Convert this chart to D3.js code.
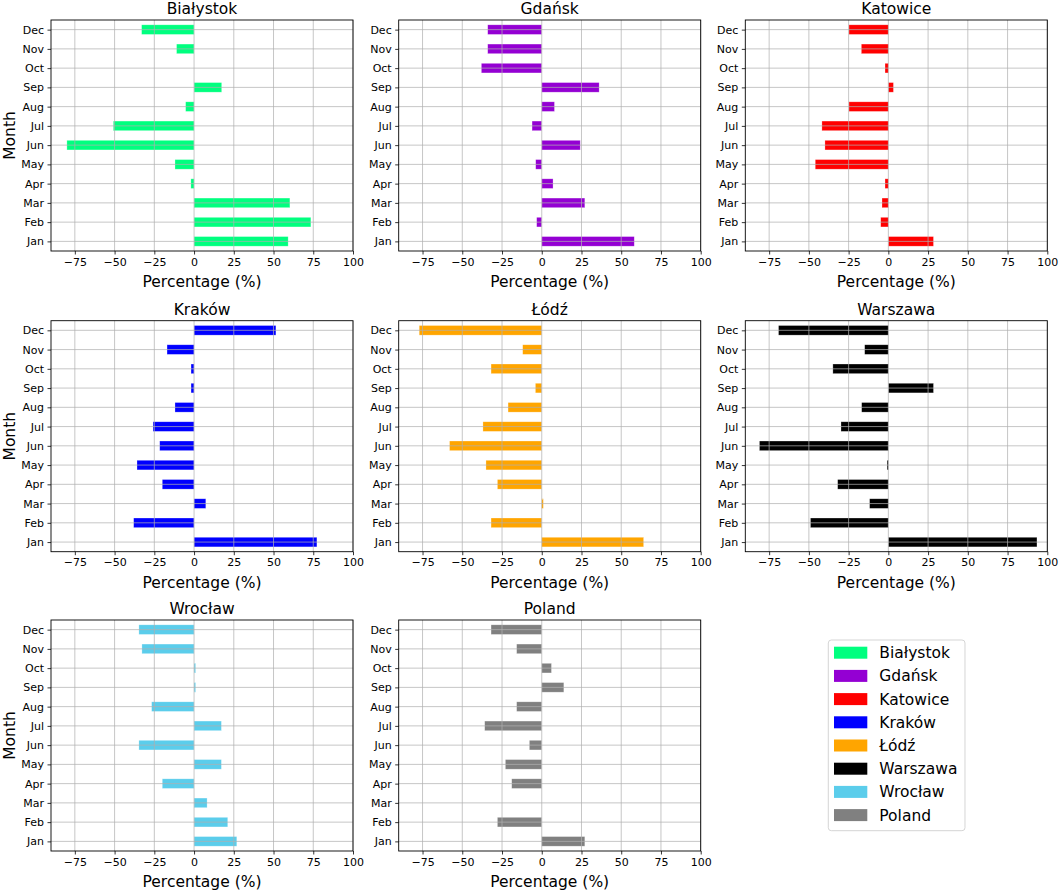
<!DOCTYPE html>
<html>
<head>
<meta charset="utf-8">
<script src="https://cdn.jsdelivr.net/npm/d3@7"></script>
<style>
  body { margin: 0; background: #fff; }
  text { font-family: "DejaVu Sans", sans-serif; fill: #000; }
</style>
</head>
<body>
<svg id="chart" width="1059" height="891"></svg>
<script>
const months = ["Jan","Feb","Mar","Apr","May","Jun","Jul","Aug","Sep","Oct","Nov","Dec"];
const xTicks = [-75,-50,-25,0,25,50,75,100];
const cities = ["Białystok","Gdańsk","Katowice","Kraków","Łódź","Warszawa","Wrocław","Poland"];
const colors = ["#00FF7F","#9400D3","#FF0000","#0000FF","#FFA500","#000000","#5BCDEB","#808080"];
// values Jan..Dec
const bialystok = [59.2, 73.5, 60.3, -2, -12, -80, -50.8, -5.3, 17.4, 0, -11, -33];
const gdansk    = [58.2, -3.2, 27.1, 7.1, -3.8, 24.2, -6.1, 8, 36.1, -38, -34, -34];
const katowice  = [28.4, -4.8, -4, -2.1, -46, -39.9, -41.8, -24.8, 3.2, -2.1, -17, -24.8];
const krakow    = [77.3, -38, 7.4, -20, -35.9, -21.6, -25.8, -12, -1.9, -1.9, -17, 51.5];
const lodz      = [64.1, -31.9, 1, -27.9, -35.1, -58, -37, -21.2, -4, -31.9, -12, -77.1];
const warszawa  = [93.5, -49, -11.8, -31.9, -0.8, -81.1, -29.8, -16.8, 28.4, -34.9, -14.9, -69.1];
const wroclaw   = [26.9, 21.2, 8.2, -20, 17.2, -34.7, 17.2, -26.7, 1, 1, -32.8, -34.7];
const poland    = [27.1, -27.9, 0, -18.9, -22.9, -7.8, -35.9, -15.8, 13.9, 6.1, -15.8, -31.9];
const seriesList = [bialystok, gdansk, katowice, krakow, lodz, warszawa, wroclaw, poland];

const svg = d3.select("#chart");
const colX = [51, 398.7, 745.3];
const rowY = [20, 320.7, 620];
const W = 302, H = 231;

const x = d3.scaleLinear().domain([-90, 100]).range([0, W]);
const y = d3.scaleLinear().domain([-0.5, 11.5]).range([H, 0]);
const bandPx = y(0) - y(0.5);

cities.forEach((city, k) => {
  const c = k % 3, r = Math.floor(k / 3);
  const g = svg.append("g").attr("transform", `translate(${colX[c]},${rowY[r]})`);
  const vals = seriesList[k];

  // bars
  g.selectAll("rect.bar").data(vals).enter().append("rect")
    .attr("class", "bar")
    .attr("x", d => x(Math.min(0, d)))
    .attr("width", d => Math.abs(x(d) - x(0)))
    .attr("y", (d, i) => y(i + 0.25))
    .attr("height", bandPx)
    .attr("fill", colors[k])
    .attr("stroke", "#ffffff").attr("stroke-opacity", 0.45).attr("stroke-width", 0.6);

  // grid (on top of bars)
  g.selectAll("line.vg").data(xTicks).enter().append("line")
    .attr("x1", d => x(d)).attr("x2", d => x(d))
    .attr("y1", 0).attr("y2", H)
    .attr("stroke", "#b0b0b0").attr("stroke-width", 0.8).attr("stroke-opacity", 0.9);
  g.selectAll("line.hg").data(months).enter().append("line")
    .attr("x1", 0).attr("x2", W)
    .attr("y1", (d, i) => y(i)).attr("y2", (d, i) => y(i))
    .attr("stroke", "#b0b0b0").attr("stroke-width", 0.8).attr("stroke-opacity", 0.9);

  // axes
  const xAxis = d3.axisBottom(x).tickValues(xTicks).tickSize(3.5).tickPadding(3.5)
    .tickFormat(d => d < 0 ? "\u2212" + Math.abs(d) : String(d));
  const gx = g.append("g").attr("transform", `translate(0,${H})`).call(xAxis);
  gx.select(".domain").remove();
  gx.selectAll("text").attr("font-size", "11px").attr("font-family", "DejaVu Sans");
  gx.selectAll("line").attr("stroke-width", 0.8);

  const yAxis = d3.axisLeft(y).tickValues(d3.range(12)).tickSize(3.5).tickPadding(3.5)
    .tickFormat(i => months[i]);
  const gy = g.append("g").call(yAxis);
  gy.select(".domain").remove();
  gy.selectAll("text").attr("font-size", "11px").attr("font-family", "DejaVu Sans");
  gy.selectAll("line").attr("stroke-width", 0.8);

  // frame
  g.append("rect").attr("x", 0).attr("y", 0).attr("width", W).attr("height", H)
    .attr("fill", "none").attr("stroke", "#000").attr("stroke-width", 0.9);

  // title
  g.append("text").attr("x", W / 2).attr("y", -6).attr("text-anchor", "middle")
    .attr("font-size", "15.5px").text(city);

  // x label
  g.append("text").attr("x", W / 2).attr("y", H + 36).attr("text-anchor", "middle")
    .attr("font-size", "15.5px").text("Percentage (%)");

  if (c === 0) {
    g.append("text").attr("transform", `translate(${15 - colX[0]},${H / 2}) rotate(-90)`)
      .attr("text-anchor", "middle").attr("font-size", "15.5px").text("Month");
  }
});

// legend
const lg = svg.append("g").attr("transform", "translate(828.3,640)");
lg.append("rect").attr("x", 0).attr("y", 0).attr("width", 136.7).attr("height", 190.7)
  .attr("rx", 3).attr("fill", "#fff").attr("stroke", "#d0d0d0").attr("stroke-width", 0.9);
cities.forEach((city, k) => {
  const cy = 12.7 + k * 23.2;
  lg.append("rect").attr("x", 5.7).attr("y", cy - 6).attr("width", 33.3).attr("height", 12)
    .attr("fill", colors[k]);
  lg.append("text").attr("x", 51).attr("y", cy + 5.5).attr("font-size", "15.5px").text(city);
});
</script>
</body>
</html>
